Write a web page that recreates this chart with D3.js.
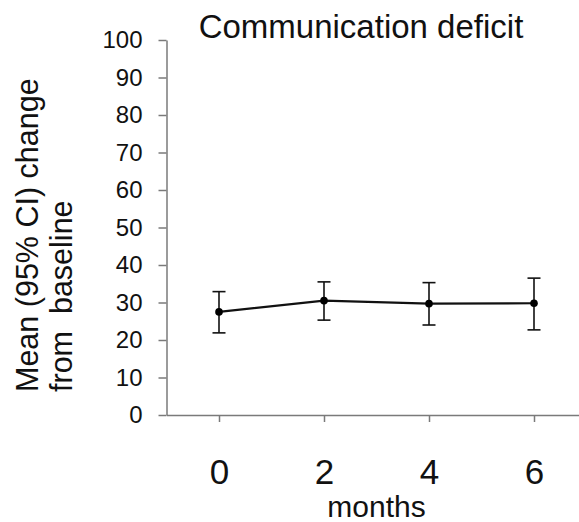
<!DOCTYPE html>
<html>
<head>
<meta charset="utf-8">
<script src="https://cdn.jsdelivr.net/npm/d3@7"></script>
<style>
  html, body { margin: 0; padding: 0; background: #fff; }
  svg { display: block; font-family: "Liberation Sans", Arial, Helvetica, sans-serif; }
</style>
</head>
<body>
<svg id="chart" width="579" height="522"></svg>
<script>
// data
const months = [0, 2, 4, 6];
const meanChange = [27.5, 30.5, 29.7, 29.8];
const ciLow = [21.9, 25.3, 24.0, 22.7];
const ciHigh = [32.9, 35.5, 35.3, 36.5];
const yTicks = [0, 10, 20, 30, 40, 50, 60, 70, 80, 90, 100];

const rows = months.map((m, i) => ({ m, v: meanChange[i], lo: ciLow[i], hi: ciHigh[i] }));

const svg = d3.select("#chart");

const x = d3.scaleLinear().domain([-1, 7]).range([166.5, 586.5]);
const y = d3.scaleLinear().domain([0, 100]).range([415, 40]);

const AXIS_COLOR = "#7a7a7a";

// ── Axes ──────────────────────────────────────────────
const yAxis = svg.append("g")
  .attr("transform", `translate(${x(-1)},0)`)
  .call(d3.axisLeft(y).tickValues(yTicks).tickSize(8).tickSizeOuter(0).tickPadding(16));
yAxis.select(".domain").attr("stroke", AXIS_COLOR).attr("stroke-width", 1.5);
yAxis.selectAll(".tick line").attr("stroke", AXIS_COLOR).attr("stroke-width", 1.5);
yAxis.selectAll(".tick text")
  .attr("fill", "#111")
  .style("font-size", "24px")
  .style("font-family", "'Liberation Sans', Arial, sans-serif");

const xAxis = svg.append("g")
  .attr("transform", `translate(0,${y(0)})`)
  .call(d3.axisBottom(x).tickValues(months).tickSize(7).tickSizeOuter(0).tickPadding(37));
xAxis.select(".domain").attr("stroke", AXIS_COLOR).attr("stroke-width", 1.5);
xAxis.selectAll(".tick line").attr("stroke", AXIS_COLOR).attr("stroke-width", 1.5);
xAxis.selectAll(".tick text")
  .attr("fill", "#111")
  .style("font-size", "35px")
  .style("font-family", "'Liberation Sans', Arial, sans-serif");

// ── Series ────────────────────────────────────────────
const bars = svg.append("g").attr("stroke", "#111").attr("stroke-width", 1.6);
bars.selectAll("line.ci")
  .data(rows).enter().append("line")
  .attr("class", "ci")
  .attr("x1", d => x(d.m)).attr("x2", d => x(d.m))
  .attr("y1", d => y(d.lo)).attr("y2", d => y(d.hi));
bars.selectAll("line.capHi")
  .data(rows).enter().append("line")
  .attr("class", "capHi")
  .attr("x1", d => x(d.m) - 6.5).attr("x2", d => x(d.m) + 6.5)
  .attr("y1", d => y(d.hi)).attr("y2", d => y(d.hi));
bars.selectAll("line.capLo")
  .data(rows).enter().append("line")
  .attr("class", "capLo")
  .attr("x1", d => x(d.m) - 6.5).attr("x2", d => x(d.m) + 6.5)
  .attr("y1", d => y(d.lo)).attr("y2", d => y(d.lo));

svg.append("path")
  .datum(rows)
  .attr("fill", "none")
  .attr("stroke", "#111")
  .attr("stroke-width", 2.2)
  .attr("d", d3.line().x(d => x(d.m)).y(d => y(d.v)));

svg.append("g").selectAll("circle")
  .data(rows).enter().append("circle")
  .attr("cx", d => x(d.m)).attr("cy", d => y(d.v))
  .attr("r", 3.8).attr("fill", "#000");

// ── Labels ────────────────────────────────────────────
svg.append("text")
  .attr("x", 361).attr("y", 38)
  .attr("text-anchor", "middle")
  .attr("fill", "#111")
  .style("font-size", "33px")
  .text("Communication deficit");

svg.append("text")
  .attr("x", x(3)).attr("y", 517)
  .attr("text-anchor", "middle")
  .attr("fill", "#111")
  .style("font-size", "30px")
  .text("months");

const yLabel = svg.append("text")
  .attr("transform", "translate(0,392) rotate(-90)")
  .attr("text-anchor", "start")
  .attr("fill", "#111")
  .style("font-size", "30.5px");
yLabel.append("tspan").attr("x", 0).attr("y", 38).text("Mean (95% CI) change");
yLabel.append("tspan").attr("x", 0).attr("y", 72).style("white-space", "pre").text("from  baseline");
</script>
</body>
</html>
